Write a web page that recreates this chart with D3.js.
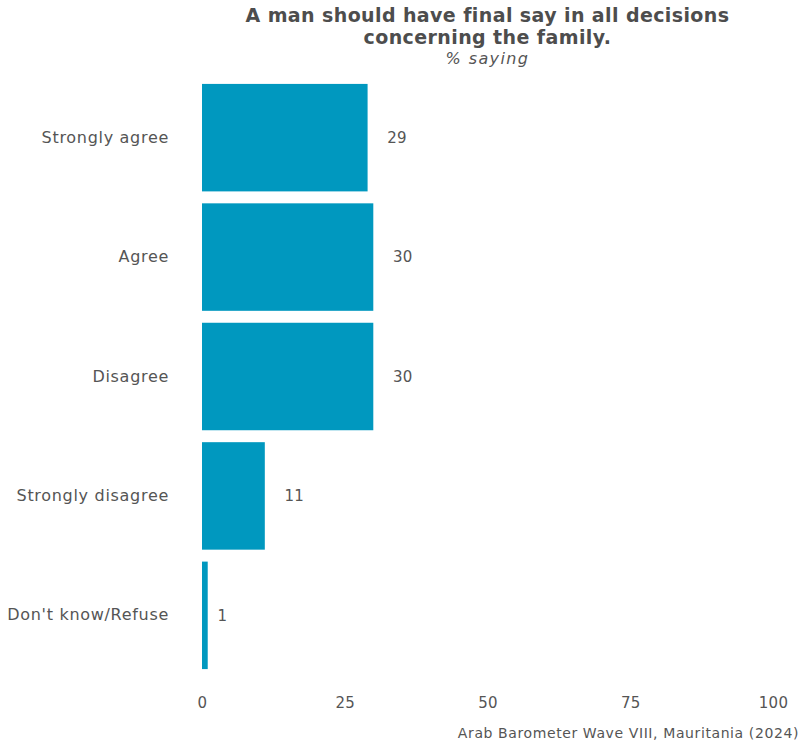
<!DOCTYPE html>
<html>
<head>
<meta charset="utf-8">
<script src="https://cdn.jsdelivr.net/npm/d3@7"></script>
<style>
  html, body { margin: 0; padding: 0; background: #fff; }
  svg { display: block; font-family: "DejaVu Sans", "Open Sans", sans-serif; }
</style>
</head>
<body>
<svg id="chart" width="800" height="744"></svg>
<script>
// Responses and shares (% saying)
const categories = ["Strongly agree", "Agree", "Disagree", "Strongly disagree", "Don't know/Refuse"];
const values = [29, 30, 30, 11, 1];
const xTicks = [0, 25, 50, 75, 100];
const titleLines = ["A man should have final say in all decisions", "concerning the family."];
const subtitle = "% saying";
const caption = "Arab Barometer Wave VIII, Mauritania (2024)";

const W = 800, H = 744;
const margin = { left: 202, right: 27, top: 66, bottom: 57 };
const barColor = "#0098bf";
const textColor = "#555555";
const font = "'DejaVu Sans', sans-serif";

const svg = d3.select("#chart");

const x = d3.scaleLinear().domain([0, 100]).range([margin.left, W - margin.right]);
const y = d3.scaleBand().domain(categories)
  .range([margin.top, H - margin.bottom])
  .paddingInner(0.1).paddingOuter(0.15);

// Bars
svg.append("g").selectAll("rect")
  .data(categories.map((c, i) => ({ c, v: values[i] })))
  .join("rect")
  .attr("x", x(0))
  .attr("y", d => y(d.c))
  .attr("width", d => x(d.v) - x(0))
  .attr("height", y.bandwidth())
  .attr("fill", barColor);

// Value labels, offset from the bar end by their own width
const labels = svg.append("g").selectAll("text")
  .data(categories.map((c, i) => ({ c, v: values[i] })))
  .join("text")
  .attr("y", d => y(d.c) + y.bandwidth() / 2)
  .attr("dy", "0.35em")
  .attr("font-size", 15)
  .attr("letter-spacing", 0.3)
  .attr("fill", textColor)
  .text(d => d.v);
labels.each(function (d) {
  const w = this.getComputedTextLength();
  d3.select(this).attr("x", x(d.v) + w);
});

// Category axis
const yAxis = svg.append("g")
  .attr("transform", `translate(${margin.left},0)`)
  .call(d3.axisLeft(y).tickSize(0).tickPadding(33));
yAxis.select(".domain").remove();
yAxis.selectAll("text")
  .attr("font-size", 16)
  .attr("letter-spacing", 0.7)
  .attr("font-family", font)
  .attr("fill", textColor);

// Value axis
const xAxis = svg.append("g")
  .attr("transform", `translate(0,${H - margin.bottom})`)
  .call(d3.axisBottom(x).tickValues(xTicks).tickSize(0).tickPadding(10));
xAxis.select(".domain").remove();
xAxis.selectAll("text")
  .attr("font-size", 15)
  .attr("letter-spacing", 0.3)
  .attr("font-family", font)
  .attr("fill", textColor);

// Title block
const cx = (x(0) + x(100)) / 2;
svg.append("text")
  .attr("x", cx).attr("y", 22)
  .attr("text-anchor", "middle")
  .attr("font-size", 19).attr("font-weight", 700)
  .attr("letter-spacing", 0.4)
  .attr("fill", "#4d4d4d")
  .text(titleLines[0]);
svg.append("text")
  .attr("x", cx).attr("y", 44)
  .attr("text-anchor", "middle")
  .attr("font-size", 19).attr("font-weight", 700)
  .attr("letter-spacing", 0.4)
  .attr("fill", "#4d4d4d")
  .text(titleLines[1]);
svg.append("text")
  .attr("x", cx).attr("y", 63.5)
  .attr("text-anchor", "middle")
  .attr("font-size", 16).attr("font-style", "italic")
  .attr("letter-spacing", 1.4)
  .attr("fill", textColor)
  .text(subtitle);

// Caption
svg.append("text")
  .attr("x", W - 1).attr("y", 738)
  .attr("text-anchor", "end")
  .attr("font-size", 14)
  .attr("letter-spacing", 0.6)
  .attr("fill", textColor)
  .text(caption);
</script>
</body>
</html>
